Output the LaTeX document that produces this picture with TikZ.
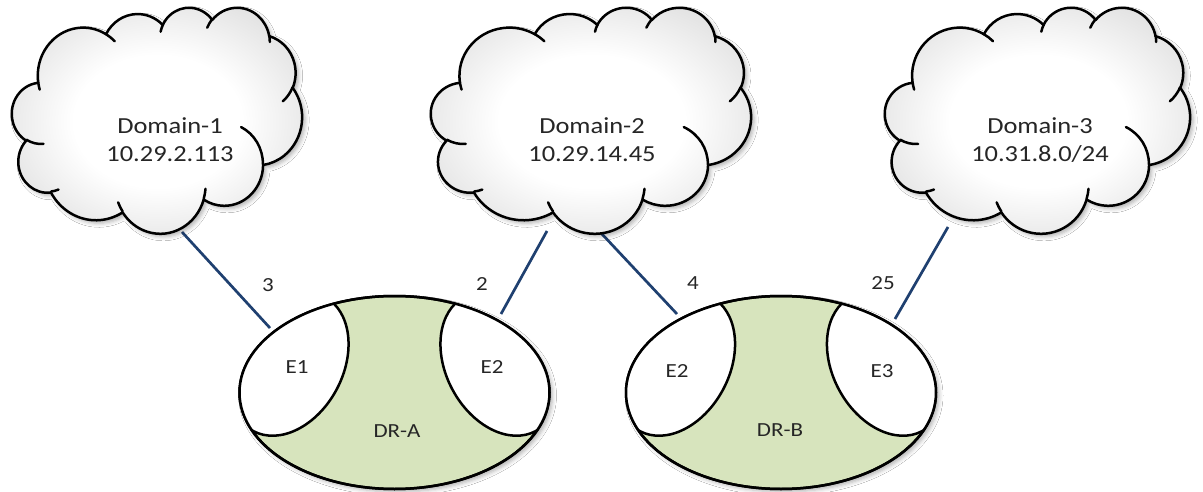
\documentclass[tikz,border=0pt]{standalone}
\usepackage{fontspec}
\setmainfont{Carlito}[FakeStretch=1.15]
\usetikzlibrary{shapes.geometric,shadows.blur}
\definecolor{linkblue}{RGB}{31,64,112}
\definecolor{drgreen}{RGB}{215,228,189}
\pgfdeclareradialshading{cloudshade}{\pgfpoint{0bp}{0bp}}{color(0bp)=(white); color(14bp)=(white); color(50bp)=(black!29); color(70bp)=(black!29)}
\newcommand\ooarc[4]{arc[x radius=#1, y radius=#2, start angle={atan2((#1)*sin(#3),(#2)*cos(#3))}, delta angle={mod(atan2((#1)*sin((#3)+(#4)),(#2)*cos((#3)+(#4)))-atan2((#1)*sin(#3),(#2)*cos(#3))+720,360)}]}
\newcommand\cloudouter{(3.900,14.370)
 \ooarc{6.753}{9.190}{-190.4875}{123.7805}
 \ooarc{5.333}{7.267}{-144.1024}{89.9452}
 \ooarc{4.365}{5.945}{-145.8079}{99.7230}
 \ooarc{4.857}{6.595}{-130.9861}{117.2417}
 \ooarc{5.333}{7.273}{-78.7089}{109.0269}
 \ooarc{6.775}{9.220}{-46.2673}{130.2690}
 \ooarc{5.785}{7.867}{0.6250}{114.0333}
 \ooarc{6.752}{9.215}{22.4516}{115.1726}
 \ooarc{7.720}{10.543}{66.2426}{75.7110}
 \ooarc{4.360}{5.918}{-274.9421}{146.7356}
 \ooarc{4.345}{5.945}{-246.8285}{152.5189} -- cycle}
\newcommand\cloudhooks{
 (4.693,26.177) \ooarc{4.345}{5.945}{86.7420}{26.4295}
 (6.928,34.899) \ooarc{4.360}{5.918}{73.6105}{11.4475}
 (16.478,39.090) \ooarc{6.752}{9.215}{137.6242}{14.0811}
 (28.827,34.751) \ooarc{6.752}{9.215}{6.4533}{15.9984}
 (34.129,22.954) \ooarc{5.785}{7.867}{-70.2924}{70.9174}
 (41.798,15.354) \ooarc{5.333}{7.273}{30.3180}{27.7515}
 (38.324,5.426) \ooarc{4.857}{6.595}{-13.7443}{14.8589}
 (29.078,3.952) \ooarc{4.857}{6.595}{-149.1815}{18.1954}
 (22.141,4.720) \ooarc{4.365}{5.945}{-163.4943}{17.6864}
 (14.000,5.192) \ooarc{6.753}{9.190}{-66.7070}{12.3194}
 (4.127,15.789) \ooarc{6.753}{9.190}{157.6544}{11.8582}}
\begin{document}
\begin{tikzpicture}[x=1pt,y=-1pt,
  link/.style={draw=linkblue, line width=2.7pt},
  cloudbody/.style={draw=black, line width=2.5pt, line join=round, shade, shading=cloudshade,
    blur shadow={shadow xshift=3pt, shadow yshift=-3pt, shadow blur radius=4pt, shadow opacity=30}},
  cloudhook/.style={draw=black, line width=2.5pt, line cap=round},
  drbody/.style={ellipse, draw=black, fill=drgreen, line width=2.5pt, minimum width=310pt, minimum height=193pt, inner sep=0pt,
    blur shadow={shadow xshift=3pt, shadow yshift=-3pt, shadow blur radius=4pt, shadow opacity=30}},
  droutline/.style={draw=black, line width=2.5pt},
  endpt/.style={ellipse, draw=black, fill=white, line width=2.5pt, minimum width=152pt, minimum height=108pt, inner sep=0pt},
  lbl/.style={font=\fontsize{20}{24}\selectfont, text=black!85, inner sep=0pt},
  dlbl/.style={font=\fontsize{23}{28}\selectfont, text=black!85, align=center, inner sep=0pt}]
\useasboundingbox (0,0) rectangle (1203,492);
\fill[white] (0,0) rectangle (1203,492);
% connector end points
\coordinate (l1a) at (182,232); \coordinate (l1b) at (270,328);
\coordinate (l2a) at (547,231); \coordinate (l2b) at (501,314);
\coordinate (l3a) at (601,233); \coordinate (l3b) at (677,314);
\coordinate (l4a) at (948,227); \coordinate (l4b) at (895,319);
\draw[link] (l1a) -- (l1b);
\draw[link] (l2a) -- (l2b);
\draw[link] (l3a) -- (l3b);
\draw[link] (l4a) -- (l4b);
% clouds
\begin{scope}[shift={(12,7)}, x=6.713pt, y=-5.231pt]
  \path[cloudbody] \cloudouter;
  \path[cloudhook] \cloudhooks;
\end{scope}
\begin{scope}[shift={(431,7)}, x=7.407pt, y=-5.231pt]
  \path[cloudbody] \cloudouter;
  \path[cloudhook] \cloudhooks;
\end{scope}
\begin{scope}[shift={(885,7)}, x=7.060pt, y=-5.231pt]
  \path[cloudbody] \cloudouter;
  \path[cloudhook] \cloudhooks;
\end{scope}
\node[dlbl] (d1) at (170,140) {Domain-1\\10.29.2.113};
\node[dlbl] (d2) at (592,140) {Domain-2\\10.29.14.45};
\node[dlbl] (d3) at (1040,140) {Domain-3\\10.31.8.0/24};
% DR-A
\node[drbody] (dra) at (394.5,392.5) {};
\begin{scope}
  \clip (394.5,392.5) ellipse [x radius=155, y radius=96.5];
  \node[endpt, rotate=62] (ea1) at (289,364) {};
  \node[endpt, rotate=-62] (ea2) at (500,364) {};
\end{scope}
\draw[droutline] (394.5,392.5) ellipse [x radius=155, y radius=96.5];
% DR-B
\node[drbody] (drb) at (781,392.5) {};
\begin{scope}
  \clip (781,392.5) ellipse [x radius=155, y radius=96.5];
  \node[endpt, rotate=62] (eb1) at (675.5,364) {};
  \node[endpt, rotate=-62] (eb2) at (886.5,364) {};
\end{scope}
\draw[droutline] (781,392.5) ellipse [x radius=155, y radius=96.5];
% labels
\node[lbl] (t1) at (297,367) {E1};
\node[lbl] (t2) at (492,367) {E2};
\node[lbl] (t3) at (397,431) {DR-A};
\node[lbl] (t4) at (677,371) {E2};
\node[lbl] (t5) at (882,371) {E3};
\node[lbl] (t6) at (780,430) {DR-B};
\node[lbl] (n1) at (268,285) {3};
\node[lbl] (n2) at (482,284) {2};
\node[lbl] (n3) at (693,283) {4};
\node[lbl] (n4) at (883,283) {25};
\end{tikzpicture}
\end{document}
